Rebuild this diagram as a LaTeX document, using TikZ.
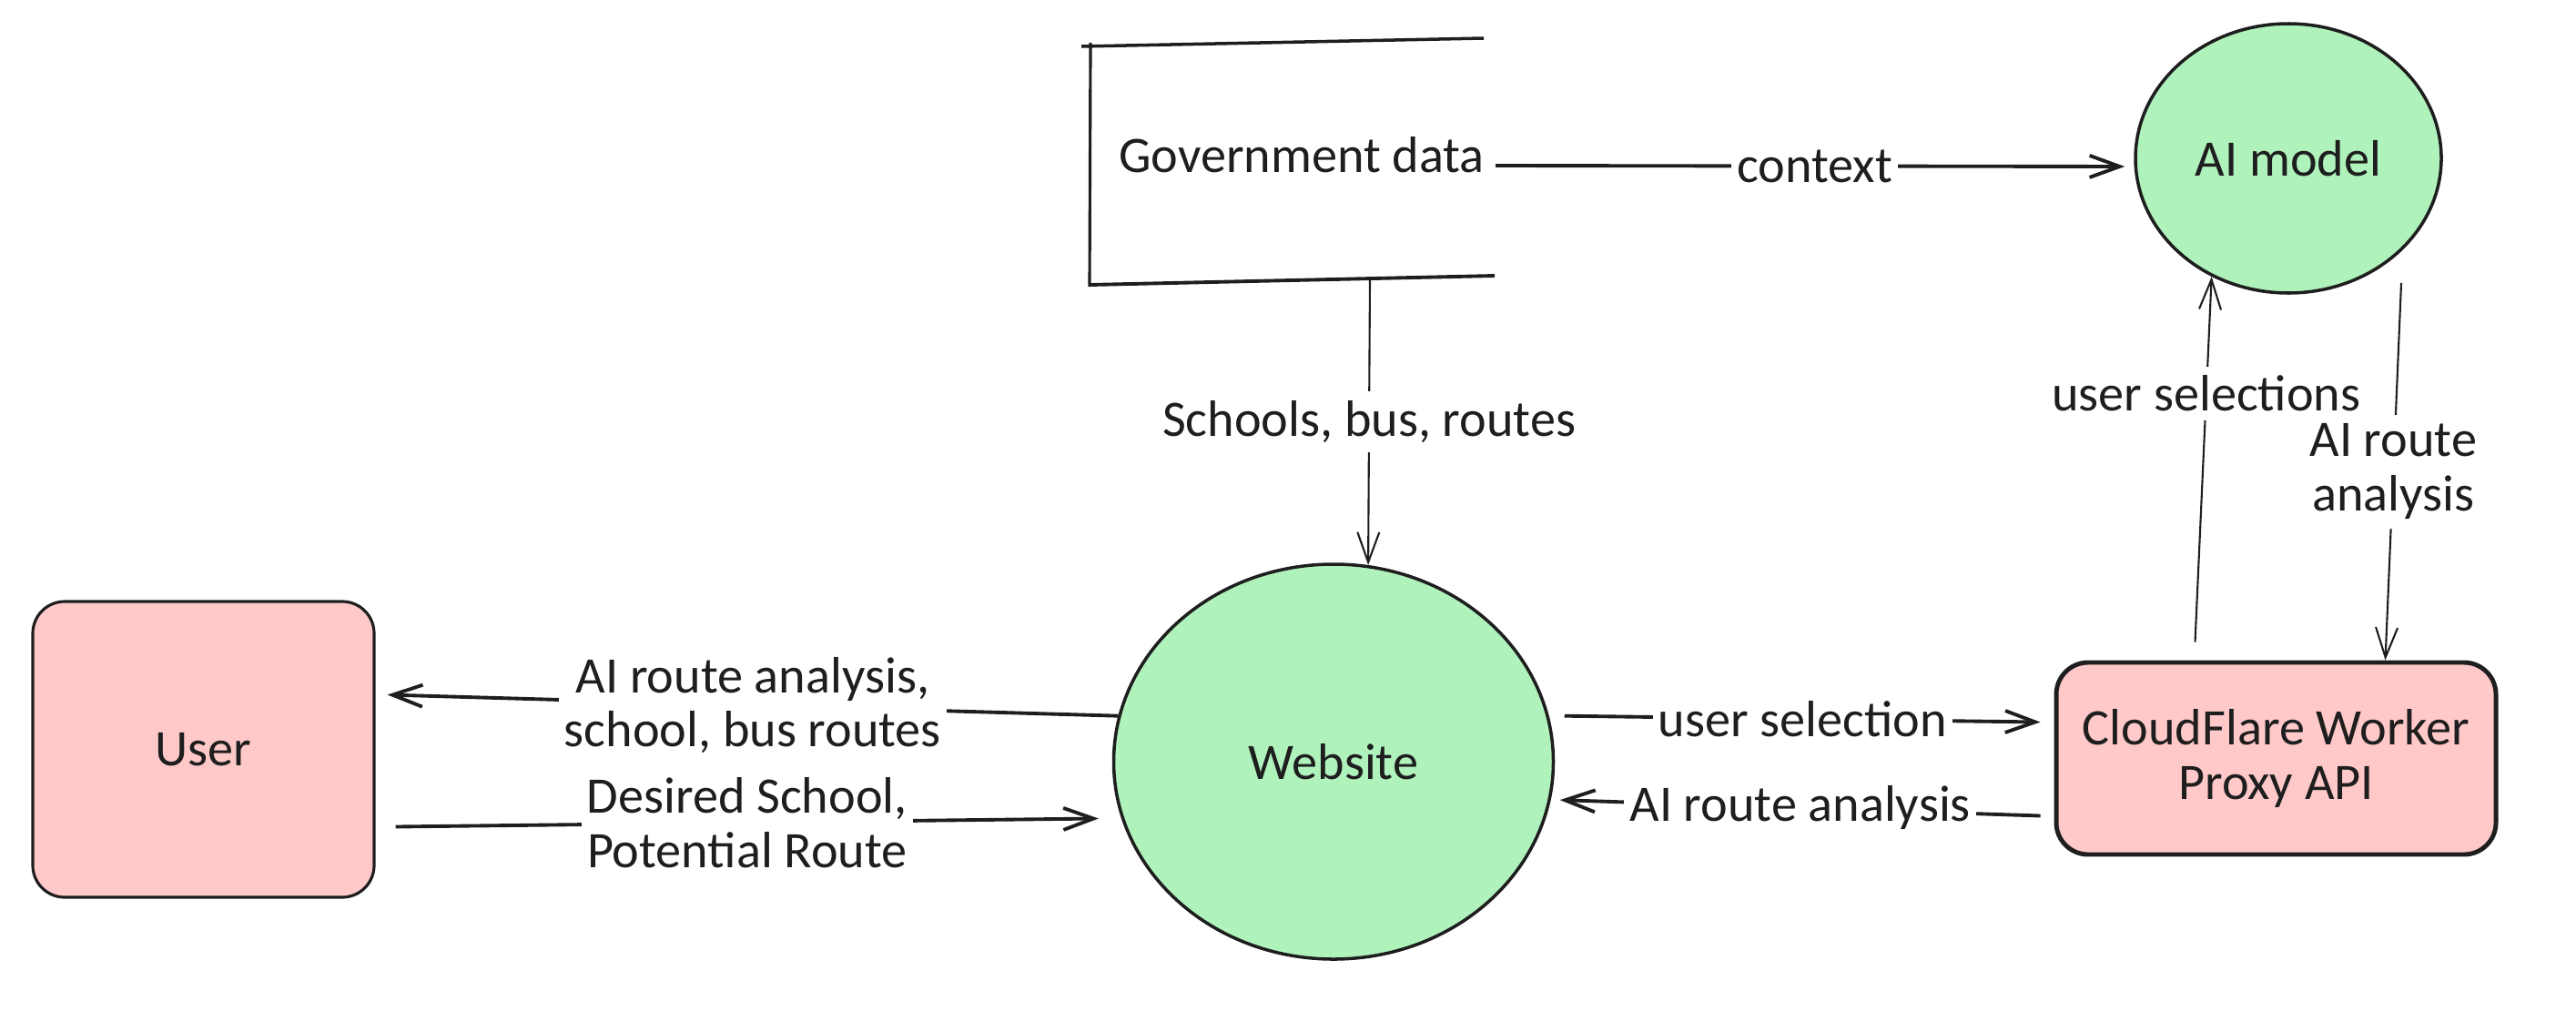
\documentclass[tikz,border=0pt]{standalone}
\usepackage{fontspec}
\setmainfont{Carlito}
\usetikzlibrary{arrows.meta,shapes,calc}
\usetikzlibrary{positioning}
\definecolor{mint}{HTML}{B0F2BC}
\definecolor{blush}{HTML}{FFC9C9}
\definecolor{ink}{HTML}{1E1E1E}
\tikzset{
    %Define standard arrow tip
    >={Straight Barb[length=3.3mm,width=2.4mm]},
    % Define arrow style
    pil/.style={
           ->,
           draw=ink,
           line width=1.1pt,},
    pilup/.style={
           ->,
           draw=ink,
           line width=0.6pt,},
    lbl/.style={fill=white, inner xsep=0.6mm, inner ysep=1mm, align=center},
    bubble/.style={draw=ink, shape=ellipse, fill=mint, line width=1pt},
    card/.style={draw=ink, rounded corners=3.5mm, fill=blush, align=center}
}

\begin{document}
\begin{tikzpicture}[every node/.style={font=\fontsize{16}{17}\selectfont, text=ink}]
  \useasboundingbox (0,0) rectangle (28.3,11.1);
  % data store
  \draw[ink, line width=1pt] (16.30,10.68) -- (11.88,10.59);
  \draw[ink, line width=0.9pt] (11.98,10.63) -- (11.97,7.95);
  \draw[ink, line width=1.1pt] (11.97,7.97) -- (16.42,8.07);
  \coordinate (govb) at (15.05,8.04);
  \node (gov) at (14.30,9.40) {Government data};
  \node (ai) at (25.14,9.36) [bubble, minimum width=3.36cm, minimum height=2.96cm] {AI model};
  \node (web) at (14.65,2.73) [bubble, minimum width=4.83cm, minimum height=4.34cm] {Website};
  \node (user) at (2.235,2.865) [card, line width=0.9pt, minimum width=3.75cm, minimum height=3.25cm] {User};
  \node (cf) at (25.005,2.765) [card, line width=1.4pt, minimum width=4.83cm, minimum height=2.11cm] {CloudFlare Worker\\Proxy API};
  % flows
  \draw [pil, shorten >=1mm] ([yshift=-1.2mm]gov.east) -- node [lbl] {context} ([yshift=-0.9mm]ai.west);
  \draw [pilup] (govb) -- node [lbl] {Schools, bus, routes} (web.80);
  \draw [pilup] ([xshift=-8.9mm,yshift=2mm]cf.north) -- node [lbl, pos=0.68] {user selections} (ai.237);
  \draw [pilup] ($(ai.center)+(1.24,-1.37)$) -- node [lbl] {AI route\\analysis} ([xshift=12mm]cf.north);
  \draw [pil] (web.168) -- node [lbl] {AI route analysis,\\school, bus routes} ([xshift=1.3mm,yshift=6mm]user.east);
  \draw [pil] ([xshift=2.2mm,yshift=-8.5mm]user.east) -- node [lbl] {Desired School,\\Potential Route} ([xshift=-2.5mm]web.195);
  \draw [pil] ([xshift=1.7mm]web.12) -- node [lbl] {user selection} ([xshift=-1.5mm,yshift=4mm]cf.west);
  \draw [pil] ([xshift=-1.5mm,yshift=-6.3mm]cf.west) -- node [lbl] {AI route analysis} ([xshift=1mm]web.350);
\end{tikzpicture}
\end{document}
